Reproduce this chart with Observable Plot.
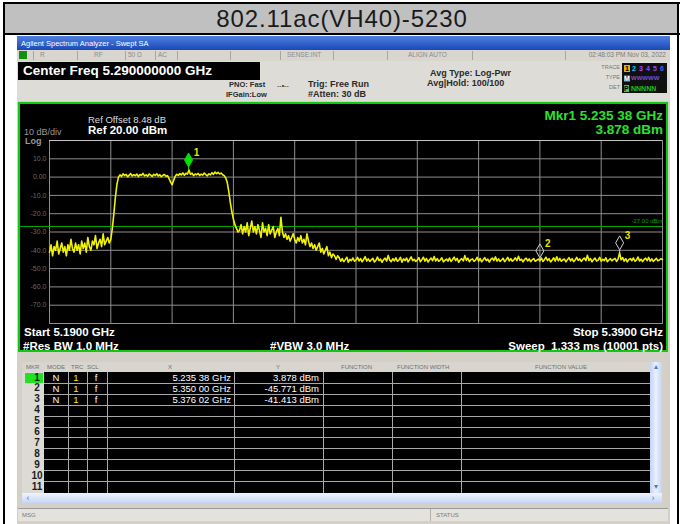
<!DOCTYPE html>
<html><head><meta charset="utf-8">
<script src="https://cdn.jsdelivr.net/npm/d3@7"></script>
<script src="https://cdn.jsdelivr.net/npm/@observablehq/plot@0.6"></script>
<style>
body{margin:0;background:#fff;}
#page{position:relative;width:685px;height:524px;overflow:hidden;font-family:"Liberation Sans",Arial,sans-serif;background:#fff;}
.a{position:absolute;white-space:nowrap;}
</style></head><body><div id="page"></div>
<script>
// ---------------- data ----------------
const chartTitle = "802.11ac(VH40)-5230";
const startFreq = 5.19;   // GHz
const stopFreq = 5.39;    // GHz
const refLevel = 20;      // dBm (top of screen)
const bottomLevel = -80;  // dBm (bottom of screen)
const displayLine = -27;  // dBm
const xTicks = [5.19, 5.21, 5.23, 5.25, 5.27, 5.29, 5.31, 5.33, 5.35, 5.37, 5.39];
const yTicks = [10, 0, -10, -20, -30, -40, -50, -60, -70];
const yTickLabels = ["10.0", "0.00", "-10.0", "-20.0", "-30.0", "-40.0", "-50.0", "-60.0", "-70.0"];
// trace, 0.5 MHz apart from 5.190 to 5.390 GHz (dBm)
const traceDbm = [
  -41,-37,-43,-38,-40,-35,-42,-39,-36,-41,
  -38,-43,-37,-40,-34,-39,-41,-36,-40,-37,
  -42,-35,-39,-36,-41,-33,-38,-40,-35,-37,
  -32,-39,-36,-34,-38,-31,-37,-35,-33,-36,
  -34,
  -28,-20,-11,-4,0,
  1.2,0.4,1.8,0.9,1.5,0.2,1.1,1.9,0.6,1.3,
  0.8,1.6,0.3,1.4,1.0,2.0,0.7,1.2,0.5,1.7,
  1.1,0.4,1.5,0.9,1.8,0.6,1.3,0.2,1.0,1.4,
  0.5,0.8,-0.8,-2.6,-4.2,-1.8,0.4,1.5,0.9,1.9,
  1.2,2.3,1.0,2.1,1.6,3.878,1.4,2.2,0.8,1.7,
  1.3,2.0,0.9,1.6,1.1,2.2,1.4,0.7,1.8,1.2,
  2.4,1.5,2.8,1.9,2.6,1.7,2.2,1.3,0.8,
  -0.5,-3,-8,-14,-19,-23,-26,-28,-30,
  -29,-26,-31,-27,-30,-25,-32,-28,-24,-30,
  -27,-31,-26,-29,-33,-25,-30,-28,-32,-26,
  -31,-29,-27,-33,-30,-28,-32,-22,-30,
  -33,-31,-34,-32,-35,-33,-31,-34,-36,-33,
  -35,-32,-36,-34,-37,-31,-35,-38,-36,-39,
  -37,-40,-38,-36,-41,-39,-42,-40,-38,-43,
  -41,-44,-42,-43,-45,-43,-44,-46,
  -44.5,-46.2,-45.1,-43.8,-46.5,-44.9,-45.7,-44.2,-46.0,-45.3,
  -43.9,-45.8,-44.6,-46.3,-45.0,-43.5,-45.9,-44.7,-46.1,-45.2,
  -44.4,-46.4,-45.5,-43.7,-45.6,-44.8,-46.6,-45.1,-44.3,-45.9,
  -42.8,-45.4,-46.2,-44.6,-45.8,-44.1,-46.0,-45.3,-43.9,-46.5,
  -44.7,-45.6,-44.2,-46.3,-45.0,-43.6,-45.7,-44.9,-46.1,-45.4,
  -44.0,-46.2,-45.1,-43.8,-45.9,-44.5,-46.4,-45.2,-44.3,-45.7,
  -43.4,-45.8,-44.6,-46.0,-45.3,-44.1,-46.3,-45.5,-44.8,-45.9,
  -44.2,-46.1,-45.0,-43.7,-45.6,-44.4,-46.5,-45.2,-44.6,-45.8,
  -42.9,-45.5,-44.3,-46.2,-45.1,-44.7,-46.0,-45.4,-43.8,-45.9,
  -44.5,-46.3,-45.2,-44.0,-45.7,-44.8,-46.4,-45.0,-44.2,-45.6,
  -43.6,-45.9,-44.7,-46.1,-45.3,-44.4,-46.2,-45.1,-43.9,-45.8,
  -44.6,-46.0,-45.2,-44.1,-45.7,-43.3,-45.5,-44.9,-46.3,-45.0,
  -44.3,-45.8,-44.7,-46.2,-45.1,-44.5,-46.0,-45.4,-44.8,-45.771,
  -44.2,-46.1,-45.0,-43.8,-45.6,-44.6,-46.4,-45.3,-44.1,-45.9,
  -43.5,-45.7,-44.4,-46.0,-45.2,-44.8,-46.3,-45.1,-44.0,-45.8,
  -44.6,-46.2,-45.3,-43.9,-45.5,-44.7,-46.1,-45.0,-44.2,-45.7,
  -42.7,-45.6,-44.5,-46.3,-45.1,-44.3,-45.9,-45.4,-43.8,-46.0,
  -44.9,-45.7,-44.1,-46.2,-45.3,-44.6,-45.8,-45.0,-44.4,-46.1,
  -44.8,-41.413,-45.2,-44.0,-45.9,-44.6,-46.3,-45.1,-44.5,-45.7,
  -44.2,-46.0,-45.4,-43.7,-45.8,-44.9,-46.2,-45.0,-44.3,-45.6,
  -43.9,-45.9,-44.7,-46.1,-45.2,-44.4,-45.8,-45.3,-44.6,-45.1
];
const mkrNum = [1, 2, 3];
const mkrFreq = [5.23538, 5.35000, 5.37602];   // GHz
const mkrVal = [3.878, -45.771, -41.413];       // dBm
const tableRows = [1,2,3,4,5,6,7,8,9,10,11];

// ---------------- helpers ----------------
const page = document.getElementById("page");
function box(x,y,w,h,bg,extra=""){const d=document.createElement("div");d.className="a";d.style.cssText=`left:${x}px;top:${y}px;width:${w}px;height:${h}px;background:${bg};${extra}`;page.appendChild(d);return d;}
function label(text,x,cy,size,o={}){const d=document.createElement("div");d.className="a";d.textContent=text;const s=d.style;s.fontSize=size+"px";s.lineHeight=size+"px";s.top=(cy-0.49*size)+"px";
  if(o.anchor==="end"){s.right=(685-x)+"px";s.textAlign="right";}else if(o.anchor==="middle"){s.left=(x-400)+"px";s.width="800px";s.textAlign="center";}else s.left=x+"px";
  s.color=o.color||"#000";s.fontWeight=o.weight||"normal";if(o.ls)s.letterSpacing=o.ls;if(o.bg){s.background=o.bg;}page.appendChild(d);return d;}

// ---------------- outer document frame ----------------
box(5,4,672,29,"#c0c0c0");
label(chartTitle,342,19,24,{anchor:"middle",color:"#1a1a1a",ls:"0.9px"});
box(3,2,677,2,"#000");
box(3,33,677,2,"#000");
box(3,2,2,522,"#000");
box(677,2,2,522,"#000");

// ---------------- analyzer window chrome ----------------
box(17,36,653,488,"#d4d0c8");
box(17,36,653,14,"linear-gradient(#4d80e2,#1c48b6)");
label("Agilent Spectrum Analyzer - Swept SA",21,43.5,7.5,{color:"#fff"});
box(17,50,653,11,"#d9d6cf");
[33,77,125,155,177,230,280,333,387,472,565].forEach(x=>box(x,51,1,9,"#aaa69e"));
box(19,51,8,8,"#119011");
const st={color:"#8c8c8c"};
label("R",40,55.5,6.5,st);label("RF",94,55.5,6.5,st);label("50 \u03A9",128,55.5,6.5,st);label("AC",158,55.5,6.5,st);
label("SENSE:INT",287,55.5,6.5,st);label("ALIGN AUTO",408,55.5,6.5,st);
label("02:48:03 PM Nov 03, 2022",666,55.5,6.5,{anchor:"end",color:"#7a7a7a"});
box(17,61,653,40,"#dedcd6");
box(18,62,242,18,"#000");
label("Center Freq 5.290000000 GHz",23,71,13.5,{weight:"bold",color:"#fff"});
const it={weight:"bold",color:"#2a2a2a"};
label("PNO: Fast",229,85,7.5,it);label("IFGain:Low",226,95,7.5,it);
label("--\u2022--",277,85,7,{color:"#333"});
label("Trig: Free Run",308,84,9,it);label("#Atten: 30 dB",308,94,9,it);
label("Avg Type: Log-Pwr",430,73,9,it);label("Avg|Hold: 100/100",427,83,9,it);
label("TRACE",620,68,5.5,{anchor:"end",color:"#777"});
label("TYPE",620,78,5.5,{anchor:"end",color:"#777"});
label("DET",620,88,5.5,{anchor:"end",color:"#777"});
box(622,63,45,30,"#101010");
const tcol=["#000","#00d0ff","#c040ff","#a040ff","#8050ff","#4a60ff"];
[1,2,3,4,5,6].forEach((n,i)=>{const d=label(String(n),624+i*7,68,7,{weight:"bold",color:tcol[i],bg:i===0?"#e8b000":"transparent"});d.style.width="6px";d.style.textAlign="center";});
label("M",624,78,7,{weight:"bold",color:"#fff",bg:"#555"});label("WWWWW",631,78,6,{weight:"bold",color:"#7a50c0"});
label("P",624,88,7,{weight:"bold",color:"#000",bg:"#50c050"});label("NNNNN",631,88,7,{weight:"bold",color:"#20c020"});

// ---------------- spectrum display (Observable Plot) ----------------
const step = (stopFreq - startFreq) / (traceDbm.length - 1);
const trace = traceDbm.map((v, i) => ({f: startFreq + i * step, v}));
const markers = mkrNum.map((n, i) => ({n, f: mkrFreq[i], v: mkrVal[i]}));
const tallDiamond = {draw(ctx){ctx.moveTo(0,-7);ctx.lineTo(4,0);ctx.lineTo(0,7);ctx.lineTo(-4,0);ctx.closePath();ctx.moveTo(0,7);ctx.lineTo(0,10);}};
const gridColor = "#8e8e8e";
const chart = Plot.plot({
  width: 650, height: 250,
  marginLeft: 31, marginRight: 6, marginTop: 38, marginBottom: 29,
  style: {background: "#000", fontFamily: "Liberation Sans, Arial, sans-serif", overflow: "visible"},
  x: {domain: [startFreq, stopFreq], axis: null},
  y: {domain: [bottomLevel, refLevel], axis: null},
  marks: [
    Plot.ruleX(xTicks, {stroke: gridColor}),
    Plot.ruleY(yTicks, {stroke: gridColor}),
    Plot.frame({stroke: gridColor}),
    Plot.ruleY([refLevel], {stroke: "#c4c4c4"}),
    Plot.text(yTicks, {y: d => d, text: d => yTickLabels[yTicks.indexOf(d)], frameAnchor: "left", textAnchor: "end", dx: -3, fill: "#6a6a6a", fontSize: 7}),
    Plot.ruleY([displayLine], {stroke: "#00a800", insetLeft: -29}),
    Plot.text([displayLine], {y: d => d, text: d => d.toFixed(2) + " dBm", frameAnchor: "right", textAnchor: "end", dy: -5, fill: "#00a000", fontSize: 6}),
    Plot.line(trace, {x: "f", y: "v", stroke: "#f2f200", strokeWidth: 1.6, strokeLinejoin: "round"}),
    Plot.dot(markers.filter(d => d.n !== 1), {x: "f", y: "v", symbol: tallDiamond, r: 5, fill: "none", stroke: "#d0d0d0", strokeWidth: 1, dy: -10}),
    Plot.dot(markers.filter(d => d.n === 1), {x: "f", y: "v", symbol: tallDiamond, r: 5, fill: "#00e000", stroke: "#00e000", strokeWidth: 1, dy: -10}),
    Plot.text(markers, {x: "f", y: "v", text: d => String(d.n), dx: 8, dy: -17, fill: "#e6e600", fontSize: 10, fontWeight: "bold"})
  ]
});
const holder = document.createElement("div");
holder.className = "a";
holder.style.cssText = "left:18px;top:102px;width:650px;height:250px;";
holder.appendChild(chart);
page.appendChild(holder);
chart.style.display = "block";
box(18,102,650,250,"transparent","border:2px solid #10c810;box-sizing:border-box;pointer-events:none;");

// display annotations
const fmtGHz = f => { const s = f.toFixed(5); return s.slice(0, s.length - 2) + " " + s.slice(-2) + " GHz"; };
label("Ref Offset 8.48 dB",88,120,9.5,{color:"#dcdcdc"});
label("Ref 20.00 dBm",88,131,11.5,{weight:"bold",color:"#fff"});
label("10 dB/div",24,132,9,{color:"#9a9a9a"});
label("Log",25,141,9,{color:"#9a9a9a",weight:"bold"});
label("Mkr1 " + fmtGHz(mkrFreq[0]),663,116,13.5,{anchor:"end",weight:"bold",color:"#2ee02e"});
label(mkrVal[0].toFixed(3) + " dBm",663,130,13.5,{anchor:"end",weight:"bold",color:"#2ee02e"});
label("Start " + startFreq.toFixed(4) + " GHz",24,333,11.5,{weight:"bold",color:"#fff"});
label("#Res BW 1.0 MHz",23,347,11.5,{weight:"bold",color:"#fff"});
label("#VBW 3.0 MHz",270,347,11.5,{weight:"bold",color:"#fff"});
label("Stop " + stopFreq.toFixed(4) + " GHz",663,333,11.5,{anchor:"end",weight:"bold",color:"#fff"});
label("Sweep  1.333 ms (10001 pts)",663,347,11.5,{anchor:"end",weight:"bold",color:"#fff"}).style.whiteSpace="pre";

// ---------------- marker table ----------------
box(22,362,628,10,"#d8d5ce");
const ht={color:"#707070"};
label("MKR",26,367,6,ht);label("MODE",47,367,6,ht);label("TRC",71,367,6,ht);label("SCL",87,367,6,ht);
label("X",168,367,6,ht);label("Y",276,367,6,ht);label("FUNCTION",341,367,6,ht);
label("FUNCTION WIDTH",397,367,6,ht);label("FUNCTION VALUE",535,367,6,ht);
box(22,372,22,121,"#dcdad4");
box(25,373,18,10,"#22e022");
box(44,372,606,121,"#000");
const rowH = 10.9;
tableRows.forEach(k => { if (k < 11) box(44, Math.round(372 + k*rowH), 606, 1, "#a8a8a8"); });
[68,87,107,234,323,392,461].forEach(x => box(x,372,1,121,"#a8a8a8"));
tableRows.forEach(k => label(String(k), 37, 372 + rowH*(k-0.5), 10, {anchor:"middle", weight:"bold", color:"#1c1c1c"}));
markers.forEach((m, i) => {
  const cy = 372 + rowH*(i+0.5);
  label("N", 56, cy, 9.5, {anchor:"middle", color:"#fff"});
  label("1", 76, cy, 9.5, {anchor:"middle", color:"#f0f000"});
  label("f", 96, cy, 9.5, {anchor:"middle", color:"#fff"});
  label(fmtGHz(m.f), 231, cy, 9.5, {anchor:"end", color:"#fff"});
  label(m.v.toFixed(3) + " dBm", 319, cy, 9.5, {anchor:"end", color:"#fff"});
});
box(650,362,12,131,"linear-gradient(90deg,#c2d3f4,#eaf1ff,#c2d3f4)");
label("\u25B4",656,367,8,{anchor:"middle",color:"#5a78c0"});
label("\u25BE",656,487,8,{anchor:"middle",color:"#5a78c0"});
box(22,493,640,10,"linear-gradient(#eef3ff,#c6d6f6)");
label("\u2039",28,498,9,{anchor:"middle",color:"#5a78c0"});
label("\u203A",653,498,9,{anchor:"middle",color:"#5a78c0"});
box(18,508,650,13,"#e4e2dc","border-top:1px solid #9a9a9a;box-sizing:border-box;");
label("MSG",22,515,6,{color:"#7a7a7a"});
box(430,509,1,12,"#b4b0a8");
label("STATUS",436,515,6,{color:"#7a7a7a"});
</script></body></html>
